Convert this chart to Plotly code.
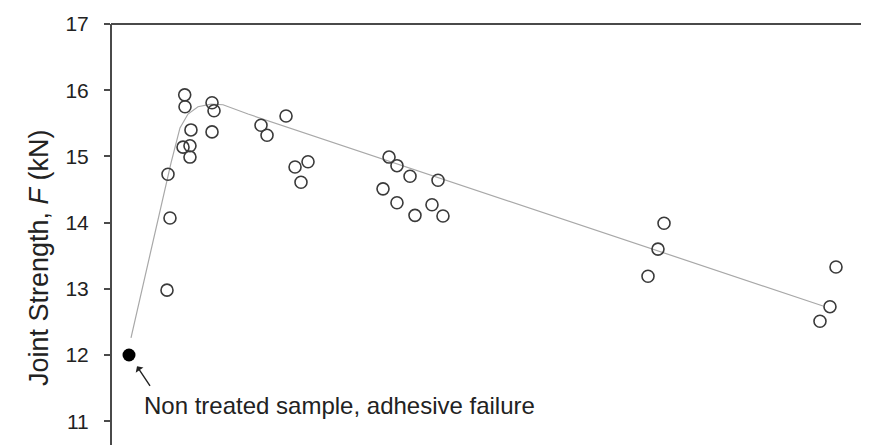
import plotly.graph_objects as go

# ---- data (x in arbitrary treatment units, y = joint strength in kN) ----
treated_x = [9.66, 9.70, 13.24, 13.50, 10.48, 13.24, 9.44, 10.35, 10.35, 7.47, 7.73, 7.34,
             19.66, 20.45, 22.94, 24.12, 25.82, 24.90,
             36.44, 37.48, 39.19, 42.86, 35.65, 37.48, 39.84, 42.07, 43.51,
             72.48, 71.69, 70.38, 95.02, 94.23, 92.92]
treated_y = [15.93, 15.75, 15.81, 15.69, 15.40, 15.37, 15.14, 15.16, 14.99, 14.73, 14.07, 12.98,
             15.47, 15.32, 15.61, 14.84, 14.92, 14.61,
             14.99, 14.86, 14.70, 14.64, 14.51, 14.30, 14.11, 14.27, 14.10,
             13.99, 13.60, 13.19, 13.33, 12.73, 12.51]

untreated_x = [2.36]
untreated_y = [12.0]

fit_x = [2.62, 6.16, 7.86, 9.04, 10.09, 11.40, 13.11, 14.68, 17.96, 93.32]
fit_y = [12.26, 14.04, 14.90, 15.43, 15.64, 15.75, 15.79, 15.78, 15.64, 12.74]

y_ticks = [11, 12, 13, 14, 15, 16, 17]
y_range = [10.52, 17]
x_range = [0, 100]

note_text = "Non treated sample, adhesive failure"
y_title = "Joint Strength, <i>F</i> (kN)"

FONT = "Liberation Sans, Arial, sans-serif"

fig = go.Figure()
fig.add_trace(go.Scatter(x=fit_x, y=fit_y, mode="lines",
                         line=dict(color="#a8a8a8", width=1.2),
                         hoverinfo="skip", showlegend=False))
fig.add_trace(go.Scatter(x=treated_x, y=treated_y, mode="markers",
                         marker=dict(symbol="circle-open", size=12, color="#3a3a3a",
                                     line=dict(width=1.6, color="#3a3a3a")),
                         showlegend=False))
fig.add_trace(go.Scatter(x=untreated_x, y=untreated_y, mode="markers",
                         marker=dict(symbol="circle", size=13, color="#000000"),
                         showlegend=False))

# arrow pointing to the non treated sample
fig.add_annotation(x=untreated_x[0] + 1.05, y=untreated_y[0] - 0.17, xref="x", yref="y",
                   text="", showarrow=True, arrowhead=1, arrowsize=1.1, arrowwidth=1.4,
                   arrowcolor="#222", ax=14, ay=21)
fig.add_annotation(x=untreated_x[0] + 1.75, y=untreated_y[0] - 0.755, xref="x", yref="y",
                   text=note_text, showarrow=False, xanchor="left", yanchor="middle",
                   font=dict(family=FONT, size=24, color="#222222"))

# y axis title
fig.add_annotation(x=-0.094, y=0.455, xref="paper", yref="paper", text=y_title,
                   textangle=-90, showarrow=False, xanchor="center", yanchor="middle",
                   font=dict(family=FONT, size=27, color="#222222"))

# frame (top, left, right) -- bottom is outside the visible region
frame = dict(color="#4a4a4a", width=2)
fig.add_shape(type="line", xref="paper", yref="paper", x0=0, x1=1, y0=1, y1=1, line=frame)
fig.add_shape(type="line", xref="paper", yref="paper", x0=0, x1=0, y0=0, y1=1, line=frame)
fig.add_shape(type="line", xref="paper", yref="paper", x0=1, x1=1, y0=0, y1=1, line=frame)

# tiny cropped marks at the bottom edge
for px in (0.209, 0.341):
    fig.add_shape(type="line", xref="paper", yref="paper", x0=px - 0.002, x1=px + 0.002,
                  y0=0.0, y1=0.008, line=dict(color="#111", width=2))

fig.update_layout(
    width=869, height=445,
    margin=dict(l=103, r=3, t=16, b=0),
    paper_bgcolor="white", plot_bgcolor="white",
    xaxis=dict(range=x_range, visible=False, showgrid=False, zeroline=False),
    yaxis=dict(range=y_range, tickvals=y_ticks, ticks="outside", ticklen=6, tickwidth=1.5,
               tickcolor="#4a4a4a", showgrid=False, zeroline=False, showline=False,
               ticklabelstandoff=11,
               tickfont=dict(family=FONT, size=21, color="#222222")),
    showlegend=False,
)

fig.write_html("out.html")
